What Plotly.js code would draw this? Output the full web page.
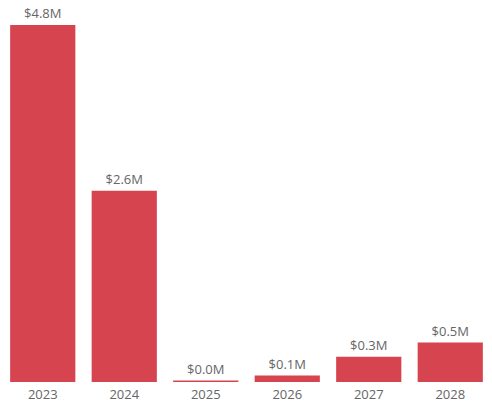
<!DOCTYPE html>
<html>
<head>
<meta charset="utf-8">
<script src="https://cdn.plot.ly/plotly-3.0.1.min.js"></script>
<style>html,body{margin:0;padding:0;background:#fff;}#chart{width:492px;height:412px;}</style>
</head>
<body>
<div id="chart"></div>
<script>
var years = ['2023', '2024', '2025', '2026', '2027', '2028'];
var valuesM = [4.8, 2.57, 0.02, 0.087, 0.34, 0.53];
var barColor = '#D6444F';

var trace = {
  type: 'bar',
  x: years,
  y: valuesM,
  marker: {color: barColor},
  texttemplate: '$%{y:.1f}M',
  textposition: 'outside',
  cliponaxis: false,
  textfont: {family: 'Open Sans, Noto Sans, sans-serif', size: 13, color: '#666666'},
  hoverinfo: 'none'
};

var layout = {
  width: 492,
  height: 412,
  margin: {l: 2, r: 1, t: 10, b: 30, pad: 0},
  paper_bgcolor: '#ffffff',
  plot_bgcolor: '#ffffff',
  bargap: 0.2,
  showlegend: false,
  xaxis: {
    type: 'category',
    showgrid: false,
    showline: false,
    zeroline: false,
    ticks: '',
    ticklabelstandoff: 3,
    tickfont: {family: 'Open Sans, Noto Sans, sans-serif', size: 13, color: '#666666'}
  },
  yaxis: {
    range: [0, 5],
    visible: false,
    showgrid: false,
    zeroline: false
  }
};

Plotly.newPlot('chart', [trace], layout, {displayModeBar: false, staticPlot: true});
</script>
</body>
</html>
